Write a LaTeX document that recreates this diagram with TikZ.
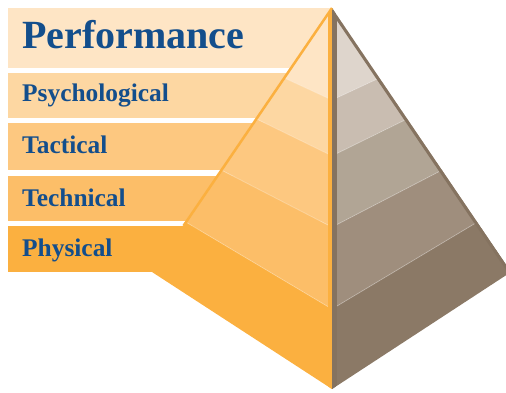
\documentclass[tikz,border=0pt]{standalone}
\usepackage{fontspec}
\setmainfont{Liberation Serif}
\usetikzlibrary{calc}

\definecolor{labelblue}{HTML}{134E8C}
\definecolor{orangeA}{HTML}{FEE5C5}
\definecolor{orangeB}{HTML}{FDD7A2}
\definecolor{orangeC}{HTML}{FDC880}
\definecolor{orangeD}{HTML}{FCBE68}
\definecolor{orangeE}{HTML}{FBB040}
\definecolor{brownA}{HTML}{DED5CC}
\definecolor{brownB}{HTML}{C9BDB1}
\definecolor{brownC}{HTML}{B1A595}
\definecolor{brownD}{HTML}{9F8E7D}
\definecolor{brownE}{HTML}{8B7966}
\definecolor{edgebrown}{HTML}{857360}

\tikzset{
  levelname/.style={anchor=base west, inner sep=0pt, text=labelblue,
    font=\bfseries\fontsize{25.4}{30}\selectfont},
  toplevelname/.style={levelname, font=\bfseries\fontsize{40}{46}\selectfont},
  seam/.style={white, opacity=0.3, line width=0.8pt}
}

\begin{document}
\begin{tikzpicture}[x=1pt,y=-1pt]
\useasboundingbox (0,0) rectangle (506,392);
\clip (0,0) rectangle (506,392);

% corners of the pyramid
\coordinate (apex) at (332,8);
\coordinate (leftcorner) at (152,272);
\coordinate (rightcorner) at (511,272);
\coordinate (base) at (332,389);

% seams on the ridges and on the front edge
\foreach \i/\r/\f in {1/0.265/0.2415, 2/0.42/0.388, 3/0.614/0.575, 4/0.811/0.79} {
  \coordinate (l\i) at ($(apex)!\r!(leftcorner)$);
  \coordinate (r\i) at ($(apex)!\r!(rightcorner)$);
  \coordinate (f\i) at ($(apex)!\f!(base)$);
}

% label bands
\fill[orangeA] (8,8) rectangle (332,68);
\fill[orangeB] (8,73) rectangle (332,118);
\fill[orangeC] (8,123) rectangle (332,170);
\fill[orangeD] (8,176) rectangle (332,221);
\fill[orangeE] (8,226) rectangle (200,271.5);

% left face
\fill[orangeA] (apex) -- (l1) -- (f1) -- cycle;
\fill[orangeB] (l1) -- (l2) -- (f2) -- (f1) -- cycle;
\fill[orangeC] (l2) -- (l3) -- (f3) -- (f2) -- cycle;
\fill[orangeD] (l3) -- (l4) -- (f4) -- (f3) -- cycle;
\fill[orangeE] (l4) -- (leftcorner) -- (base) -- (f4) -- cycle;

% right face
\fill[brownA] (apex) -- (r1) -- (f1) -- cycle;
\fill[brownB] (r1) -- (r2) -- (f2) -- (f1) -- cycle;
\fill[brownC] (r2) -- (r3) -- (f3) -- (f2) -- cycle;
\fill[brownD] (r3) -- (r4) -- (f4) -- (f3) -- cycle;
\fill[brownE] (r4) -- (rightcorner) -- (base) -- (f4) -- cycle;

\foreach \i in {1,...,4}
  \draw[seam] (l\i) -- (f\i) -- (r\i);

% edges
\begin{scope}
  \clip (apex) -- (leftcorner) -- (base) -- cycle;
  \draw[orangeE, line width=8pt] (apex) -- (base);
\end{scope}
\begin{scope}
  \clip (apex) -- (rightcorner) -- (base) -- cycle;
  \draw[edgebrown, line width=9pt] (apex) -- (base);
  \draw[edgebrown, line width=6pt] (apex) -- (rightcorner);
\end{scope}
\draw[orangeE, line width=2.5pt] (apex) -- ($(apex)!0.825!(leftcorner)$);

% level names
\node[toplevelname] (performance) at (22,48.5) {Performance};
\node[levelname] (psychological) at (22,101.7) {Psychological};
\node[levelname] (tactical) at (22,153.3) {Tactical};
\node[levelname] (technical) at (22,206) {Technical};
\node[levelname] (physical) at (22,256.7) {Physical};
\end{tikzpicture}
\end{document}
